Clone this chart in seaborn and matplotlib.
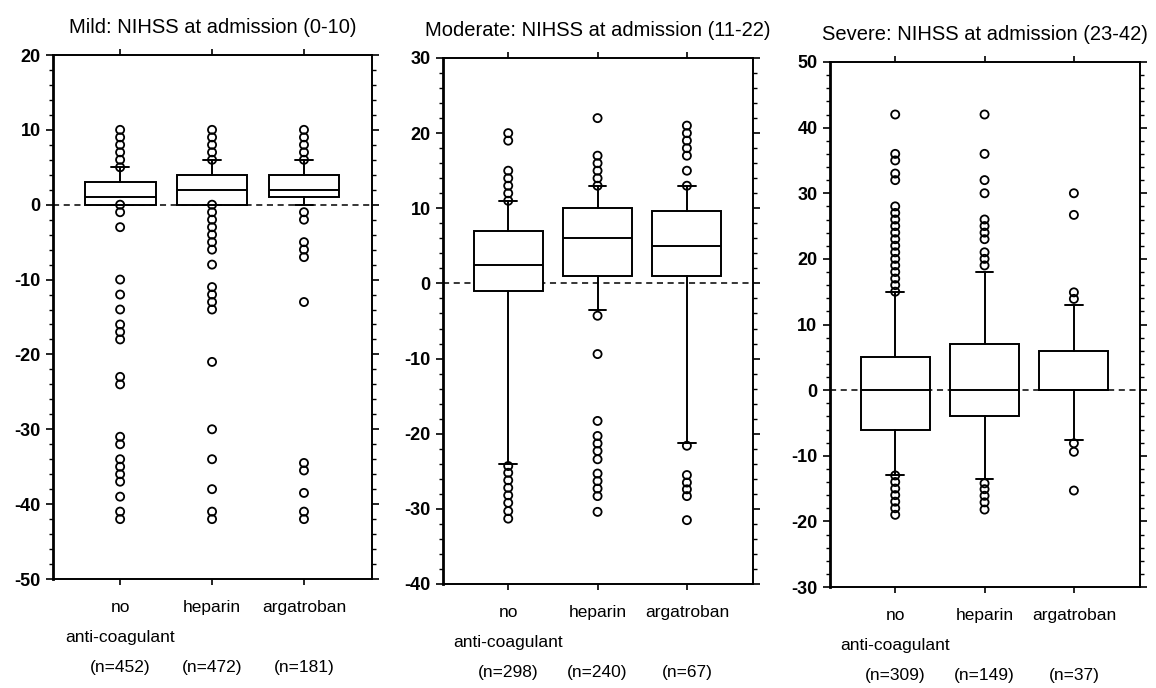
import numpy as np
import pandas as pd
import matplotlib
matplotlib.use("Agg")
import matplotlib.pyplot as plt
from matplotlib.ticker import MultipleLocator
import seaborn as sns

# ---------------- data ----------------
groups = ["no\nanti-coagulant", "heparin", "argatroban"]
titles = ["Mild: NIHSS at admission (0-10)",
          "Moderate: NIHSS at admission (11-22)",
          "Severe: NIHSS at admission (23-42)"]
n_counts = [[452, 472, 181], [298, 240, 67], [309, 149, 37]]
ylims = [(-50, 20), (-40, 30), (-30, 50)]

# Mild
mild_q1 = [0, 0, 1]
mild_med = [1, 2, 2]
mild_q3 = [3, 4, 4]
mild_wlo = [0, 0, 0]
mild_whi = [5, 6, 6]
mild_out_no = [10, 9, 8, 7, 6, 5, 0, -1, -3, -10, -12, -14, -16, -17, -18,
               -23, -24, -31, -32, -34, -35, -36, -37, -39, -41, -42]
mild_out_hep = [10, 9, 8, 7, 6, 0, -1, -2, -3, -4, -5, -6, -8, -11, -12, -13,
                -14, -21, -30, -34, -38, -41, -42]
mild_out_arg = [10, 9, 8, 7, 6, -1, -2, -5, -6, -7, -13, -34.5, -35.5, -38.5,
                -41, -42]

# Moderate
mod_q1 = [-1, 1, 1]
mod_med = [2.5, 6, 5]
mod_q3 = [7, 10, 9.7]
mod_wlo = [-24, -3.6, -21.2]
mod_whi = [11, 13, 12.9]
mod_out_no = [20, 19, 15, 14, 13, 12, 11, -24.3, -25.2, -26.2, -27.2, -28.2,
              -29.2, -30.3, -31.3]
mod_out_hep = [22, 17, 16, 15, 14, 13, -4.3, -9.4, -18.3, -20.3, -21.3, -22.3,
               -23.4, -25.3, -26.3, -27.3, -28.3, -30.4]
mod_out_arg = [21, 20, 19, 18, 17, 15, 13, -21.6, -25.5, -26.5, -27.4, -28.3,
               -31.5]

# Severe
sev_q1 = [-6, -4, 0]
sev_med = [0, 0, 0]
sev_q3 = [5, 7, 6]
sev_wlo = [-13, -13.6, -7.6]
sev_whi = [15, 18, 13]
sev_out_no = [42, 36, 35, 33, 32, 28, 27, 26, 25, 24, 23, 22, 21, 20, 19, 18,
              17, 16, 15, -13, -14, -15, -16, -17, -18, -19]
sev_out_hep = [42, 36, 32, 30, 26, 25, 24, 23, 21, 20, 19, -14.2, -15.1,
               -16.1, -17.1, -18.2]
sev_out_arg = [30, 26.7, 14.9, 13.9, -8.1, -9.4, -15.3]

panels = [
    (mild_q1, mild_med, mild_q3, mild_wlo, mild_whi,
     [mild_out_no, mild_out_hep, mild_out_arg]),
    (mod_q1, mod_med, mod_q3, mod_wlo, mod_whi,
     [mod_out_no, mod_out_hep, mod_out_arg]),
    (sev_q1, sev_med, sev_q3, sev_wlo, sev_whi,
     [sev_out_no, sev_out_hep, sev_out_arg]),
]

# ---------------- style ----------------
sns.set_style("ticks")
plt.rcParams['font.family'] = ['Liberation Sans', 'DejaVu Sans']
plt.rcParams['axes.unicode_minus'] = False
plt.rcParams['text.color'] = 'black'
plt.rcParams['xtick.color'] = 'black'
plt.rcParams['ytick.color'] = 'black'
plt.rcParams['xtick.labelcolor'] = 'black'
plt.rcParams['ytick.labelcolor'] = 'black'

fig = plt.figure(figsize=(11.56, 6.88), dpi=100)
rects = [
    [53 / 1156, 1 - 579 / 688, 319 / 1156, 524 / 688],
    [443 / 1156, 1 - 584 / 688, 310 / 1156, 526 / 688],
    [830 / 1156, 1 - 587 / 688, 310 / 1156, 525 / 688],
]

for i, (q1, med, q3, wlo, whi, outs) in enumerate(panels):
    ax = fig.add_axes(rects[i])
    stats = []
    for j in range(3):
        stats.append(dict(med=med[j], q1=q1[j], q3=q3[j],
                          whislo=wlo[j], whishi=whi[j], fliers=[]))
    ax.axhline(0, color="black", lw=1.1, ls=(0, (4, 3)), zorder=1)
    ax.bxp(stats, positions=[0, 1, 2], widths=0.77, capwidths=0.2,
           showfliers=False, patch_artist=True,
           boxprops=dict(facecolor="white", edgecolor="black", linewidth=1.4),
           medianprops=dict(color="black", linewidth=1.4),
           whiskerprops=dict(color="black", linewidth=1.4),
           capprops=dict(color="black", linewidth=1.4))
    rows = []
    for j in range(3):
        for v in outs[j]:
            rows.append({"pos": j, "value": v})
    df = pd.DataFrame(rows)
    sns.scatterplot(data=df, x="pos", y="value", ax=ax, marker="o", s=34,
                    facecolor="none", edgecolor="black", linewidth=1.3,
                    zorder=4, legend=False)
    ax.set_xlim(-0.73, 2.74)
    ax.set_ylim(*ylims[i])
    ax.yaxis.set_major_locator(MultipleLocator(10))
    ax.yaxis.set_minor_locator(MultipleLocator(2))
    ax.set_xticks([0, 1, 2])
    labels = []
    for j, g in enumerate(groups):
        if "\n" in g:
            labels.append(f"{g}\n(n={n_counts[i][j]})")
        else:
            labels.append(f"{g}\n\n(n={n_counts[i][j]})")
    ax.set_xticklabels(labels, fontsize=12.5, linespacing=2.25, color="black")
    for lab in ax.get_yticklabels():
        lab.set_fontweight("bold")
        lab.set_fontsize(13)
        lab.set_color("black")
    ax.tick_params(axis="x", which="major", direction="out", top=True,
                   bottom=True, length=4, width=1.2, pad=11)
    ax.tick_params(axis="y", which="major", direction="out", left=True,
                   right=True, length=5, width=1.2, pad=4)
    ax.tick_params(axis="y", which="minor", direction="out", left=True,
                   right=True, length=3, width=1.0)
    ax.set_xlabel("")
    ax.set_ylabel("")
    for side in ["top", "right", "bottom", "left"]:
        ax.spines[side].set_visible(True)
        ax.spines[side].set_color("black")
        ax.spines[side].set_linewidth(1.4)
    ax.spines["left"].set_linewidth(2.0)
    ax.set_title(titles[i], fontsize=14.5, pad=16, color="black")

fig.savefig("out.png", dpi=100)
